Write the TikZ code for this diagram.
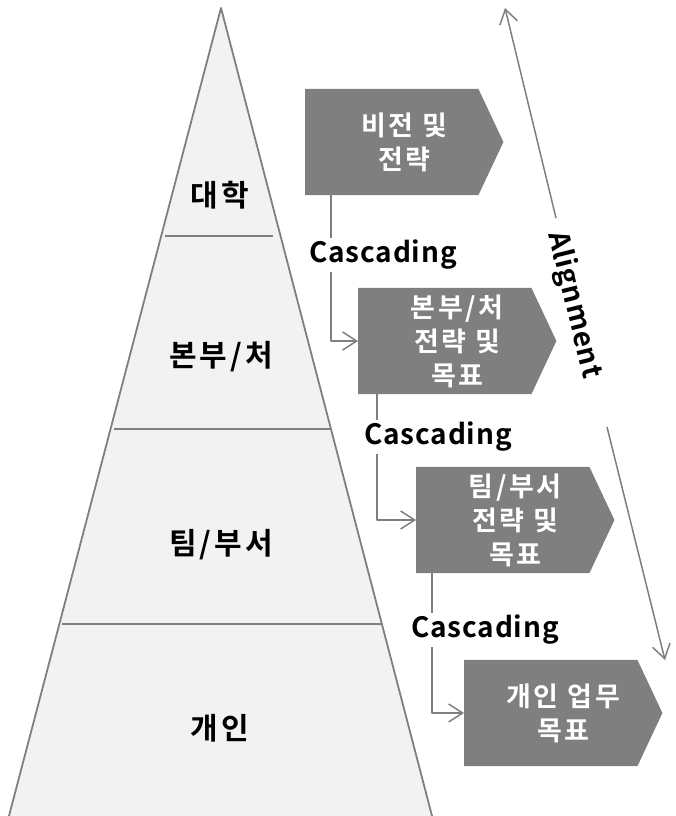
\documentclass[tikz,border=0pt]{standalone}
\usepackage{fontspec}
\setmainfont{Noto Sans CJK KR}[BoldFont={Noto Sans CJK KR Bold}]
\newfontfamily\krwide{Noto Sans CJK KR Bold}[LetterSpace=10]
\newfontfamily\latwide{Noto Sans CJK KR Bold}[LetterSpace=3]
\usetikzlibrary{arrows.meta,backgrounds}
\definecolor{pyrc}{HTML}{F2F2F2}
\definecolor{linec}{HTML}{7F7F7F}
\definecolor{boxc}{HTML}{7F7F7F}

\tikzset{
  pyrline/.style={draw=linec, line width=1.8pt},
  tierlabel/.style={font=\krwide\fontsize{30}{34}\selectfont},
  goalbox/.style={anchor=west, text=white, align=center, inner sep=0pt,
    minimum width=198pt, minimum height=106pt,
    font=\krwide\fontsize{27}{34}\selectfont},
  cascade/.style={draw=linec, line width=1.5pt, -{Straight Barb[length=14pt, width=18pt, line width=1.5pt]}},
  casclabel/.style={fill=white, inner sep=2pt, font=\latwide\fontsize{28}{32}\selectfont},
}

\begin{document}
\begin{tikzpicture}[x=1pt, y=-1pt, line join=round]
  \useasboundingbox (0,0) rectangle (676,816);

  % pyramid and its tiers
  \draw[pyrline, fill=pyrc] (221,8) -- (433.6,822) -- (7.4,822) -- cycle;
  \draw[pyrline] (165,236) -- (273,236);
  \draw[pyrline] (114,429) -- (331,429);
  \draw[pyrline] (62,624) -- (381,624);
  \node[tierlabel] (univ) at (220,195) {대학};
  \node[tierlabel] (hqtier) at (221,357) {본부/처};
  \node[tierlabel] (teamtier) at (221,545) {팀/부서};
  \node[tierlabel] (persontier) at (220,728) {개인};

  % goal boxes
  \node[goalbox] (vision) at (305,142) {비전 및\\전략};
  \node[goalbox] (hq) at (358,341) {본부/처\\전략 및\\목표};
  \node[goalbox] (team) at (416,520) {팀/부서\\전략 및\\목표};
  \node[goalbox] (indiv) at (464,713) {개인 업무\\목표};
  \begin{scope}[on background layer]
    \foreach \b in {vision,hq,team,indiv}
      \fill[boxc] (\b.north west) -- ([xshift=-25pt]\b.north east) -- (\b.east)
        -- ([xshift=-25pt]\b.south east) -- (\b.south west) -- cycle;
  \end{scope}

  % cascading connectors
  \draw[cascade] ([xshift=26pt]vision.south west) |- (hq.west);
  \node[casclabel] (casc1) at (383,255) {Cascading};
  \draw[cascade] ([xshift=19pt]hq.south west) |- (team.west);
  \node[casclabel] (casc2) at (438,437) {Cascading};
  \draw[cascade] ([xshift=16pt]team.south west) |- (indiv.west);
  \node[casclabel] (casc3) at (485,630) {Cascading};

  % alignment arrow
  \coordinate (aligntop) at (505,8);
  \coordinate (aligngap1) at (556,218);
  \coordinate (aligngap2) at (607,427);
  \coordinate (alignbot) at (665,660);
  \draw[cascade] (aligngap1) -- (aligntop);
  \draw[cascade] (aligngap2) -- (alignbot);
  \node[rotate=-76.2, inner sep=0pt, font=\latwide\fontsize{28}{32}\selectfont] (aligntext) at (574,305) {Alignment};
\end{tikzpicture}
\end{document}
